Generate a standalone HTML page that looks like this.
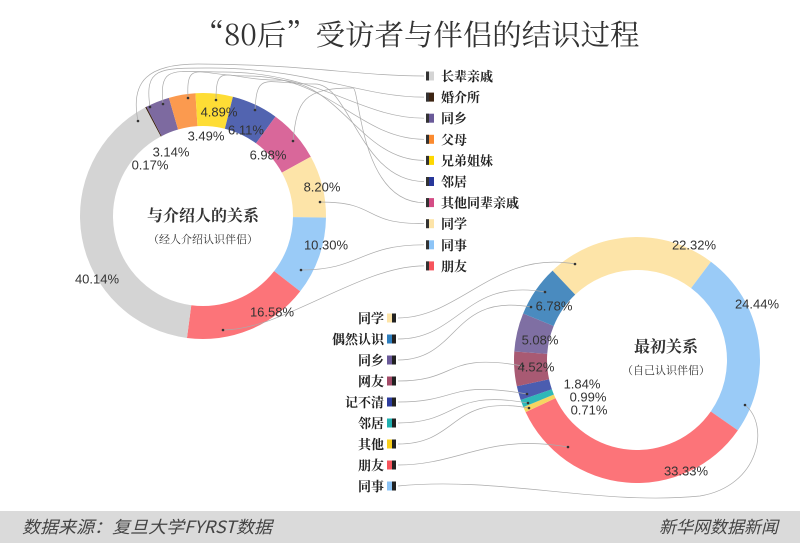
<!DOCTYPE html>
<html><head><meta charset="utf-8"><style>
html,body{margin:0;padding:0;background:#fff}
body{width:800px;height:543px;overflow:hidden;position:relative;font-family:"Liberation Sans","Noto Sans CJK SC",sans-serif}
svg{position:absolute;left:0;top:0}
</style></head><body>
<svg id="s" width="800" height="543" viewBox="0 0 800 543" xmlns="http://www.w3.org/2000/svg">
<rect x="0" y="511" width="800" height="32" fill="#dadada"/>
<text x="417" y="45" text-anchor="middle" font-size="29" fill="#333" font-family="'Noto Serif CJK SC','Noto Sans CJK SC',serif" textLength="445" lengthAdjust="spacingAndGlyphs">“80后”受访者与伴侣的结识过程</text>
<text x="22" y="533" font-size="17" fill="#444" font-style="italic" font-family="'Noto Sans CJK SC',sans-serif" textLength="250" lengthAdjust="spacingAndGlyphs">数据来源：复旦大学FYRST数据</text>
<text x="778" y="533" text-anchor="end" font-size="17" fill="#444" font-style="italic" font-family="'Noto Sans CJK SC',sans-serif">新华网数据新闻</text>
<g id="g"></g>
<text x="203" y="221" text-anchor="middle" font-size="16" font-weight="bold" fill="#333" font-family="'Noto Serif CJK SC',serif">与介绍人的关系</text>
<text x="203" y="243" text-anchor="middle" font-size="11" fill="#333" font-family="'Noto Serif CJK SC',serif">（经人介绍认识伴侣）</text>
<text x="666" y="352" text-anchor="middle" font-size="16" font-weight="bold" fill="#333" font-family="'Noto Serif CJK SC',serif">最初关系</text>
<text x="666" y="374" text-anchor="middle" font-size="11" fill="#333" font-family="'Noto Serif CJK SC',serif">（自己认识伴侣）</text>
</svg>
<script>
var NS="http://www.w3.org/2000/svg",g=document.getElementById('g');
function el(t,a,txt){var e=document.createElementNS(NS,t);for(var k in a)e.setAttribute(k,a[k]);if(txt)e.textContent=txt;g.appendChild(e);return e;}
function pt(cx,cy,r,a){a=a*Math.PI/180;return[cx+r*Math.sin(a),cy-r*Math.cos(a)];}
function donut(cx,cy,R,r,start,data){var a=start;data.forEach(function(d){var b=a+d[0]*3.6;var p1=pt(cx,cy,R,a),p2=pt(cx,cy,R,b),p3=pt(cx,cy,r,b),p4=pt(cx,cy,r,a);var L=(b-a)>180?1:0;
el('path',{d:'M'+p1+' A'+R+','+R+' 0 '+L+' 1 '+p2+' L'+p3+' A'+r+','+r+' 0 '+L+' 0 '+p4+'Z',fill:d[1]});a=b;});}
donut(203,216,123,90,332,[[0.17,'#3d2412'],[3.14,'#7d6aa0'],[3.49,'#fb9a4f'],[4.89,'#fedd35'],[6.11,'#5264b0'],[6.98,'#d9679a'],[8.20,'#fde4a8'],[10.30,'#9acbf7'],[16.58,'#fc7479'],[40.14,'#d4d4d4']]);
donut(637,360,123,90,-43.4,[[22.32,'#fde4a8'],[24.44,'#9acbf7'],[33.33,'#fc7479'],[0.71,'#f6d561'],[0.99,'#2fb8b8'],[1.84,'#4b5db0'],[4.52,'#a85a73'],[5.08,'#7f6fa3'],[6.78,'#4a8bbf']]);
var LL=[['长辈亲戚','#d4d4d4',[138,121]],['婚介所','#3d2412',[150,107]],['同乡','#6a5a99',[163,104]],['父母','#fb8a2f',[188,98]],['兄弟姐妹','#fed800',[216,100]],['邻居','#28379a',[255,110]],['其他同辈亲戚','#d44c85',[293,141]],['同学','#fde4a8',[320,202]],['同事','#8cc4f7',[301,270]],['朋友','#f7545c',[223,330]]];
LL.forEach(function(d,i){var y=76+i*21.1;var dt=d[2];var c;
if(i<7){var top=64+i*4;c='M'+dt+' C'+(dt[0]-8+i*2)+','+(dt[1]-40)+' '+(dt[0]+10)+','+top+' '+(dt[0]+60)+','+top+' C'+(300+i*10)+','+top+' 360,'+y+' 424,'+y;}
else c='M'+dt+' C'+(dt[0]+60)+','+dt[1]+' 360,'+y+' 424,'+y;
el('path',{d:c,fill:'none',stroke:'#aaa','stroke-width':'0.7'});
el('circle',{cx:dt[0],cy:dt[1],r:1.3,fill:'#333'});
el('rect',{x:426,y:y-4.5,width:8,height:9,fill:d[1]});el('rect',{x:426,y:y-4.5,width:3,height:9,fill:'#333'});
el('text',{x:441,y:y+5,'font-size':13,'font-weight':'bold',fill:'#222','font-family':"'Noto Serif CJK SC',serif"},d[0]);});
var RL=[['同学','#fde4a8',[575,264]],['偶然认识','#2f7fbf',[545,292]],['同乡','#6a5a99',[531,307]],['网友','#a34b68',[523,366]],['记不清','#2c3c9e',[527,394]],['邻居','#1fb0b0',[528,403]],['其他','#f9cf1a',[529,408]],['朋友','#f7545c',[568,447]],['同事','#8cc4f7',[745,405]]];
RL.forEach(function(d,i){var y=318+i*21;var dt=d[2];var c;
if(i==8)c='M398,'+y+' C500,'+(y-10)+' 600,'+(y+20)+' 700,'+(y+10)+' C760,'+(y)+' 770,'+(dt[1]+20)+' '+dt;
else c='M398,'+y+' C460,'+y+' '+(dt[0]-80)+','+(dt[1]-14)+' '+dt;
el('path',{d:c,fill:'none',stroke:'#aaa','stroke-width':'0.7'});
el('circle',{cx:dt[0],cy:dt[1],r:1.3,fill:'#333'});
el('rect',{x:387,y:y-4.5,width:9,height:9,fill:d[1]});el('rect',{x:392,y:y-4.5,width:4,height:9,fill:'#222'});
el('text',{x:384,y:y+5,'text-anchor':'end','font-size':13,'font-weight':'bold',fill:'#222','font-family':"'Noto Serif CJK SC',serif"},d[0]);});
var labs=[['40.14%',97,279],['0.17%',150,165],['3.14%',171,152],['3.49%',206,136],['4.89%',219,112],['6.11%',246,130],['6.98%',268,155],['8.20%',322,187],['10.30%',326,245],['16.58%',272,312],
['22.32%',694,245],['24.44%',757,304],['33.33%',686,471],['6.78%',554,306],['5.08%',540,340],['4.52%',536,367],['1.84%',582,384],['0.99%',588,397],['0.71%',589,410]];
labs.forEach(function(l){el('text',{x:l[1],y:l[2]+4.5,'text-anchor':'middle','font-size':13,fill:'#333'},l[0]);});
</script>
</body></html>
